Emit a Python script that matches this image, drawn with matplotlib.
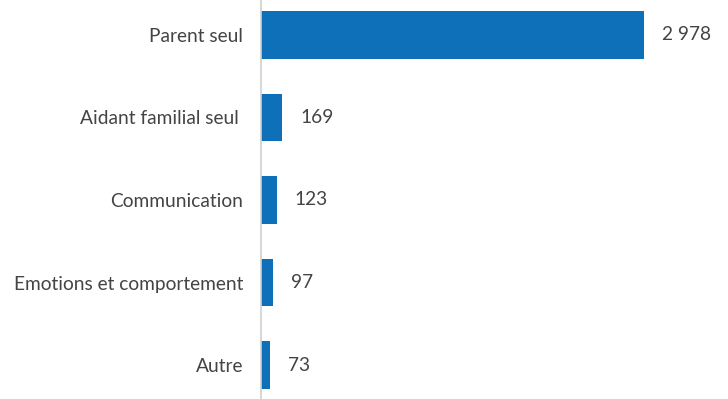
import matplotlib
matplotlib.use("Agg")
import matplotlib.pyplot as plt

categories = ["Parent seul", "Aidant familial seul ", "Communication",
              "Emotions et comportement", "Autre"]
values = [2978, 169, 123, 97, 73]

plt.rcParams["font.family"] = ["Lato", "DejaVu Sans"]

fig = plt.figure(figsize=(7.28, 3.99), dpi=100)
ax = fig.add_axes([260.7 / 728, 0, 1 - 260.7 / 728, 1])

bar_color = "#0E70B8"
text_color = "#444444"

ypos = list(range(len(categories)))
ax.barh(ypos, values, height=0.58, color=bar_color)

ax.set_ylim(4.412, -0.424)
ax.set_xlim(0, 3630)

for y, v in zip(ypos, values):
    label = f"{v:,}".replace(",", " ")
    ax.annotate(label, xy=(v, y), xytext=(12.6, 0), textcoords="offset points",
                ha="left", va="center", fontsize=13.8, color=text_color)

ax.set_yticks(ypos)
ax.set_yticklabels(categories, fontsize=13.8, color=text_color)
ax.tick_params(axis="y", length=0, pad=12.6)
ax.set_xticks([])

for side in ("top", "right", "bottom"):
    ax.spines[side].set_visible(False)
ax.spines["left"].set_color("#D0D0D0")
ax.spines["left"].set_linewidth(1.2)

fig.savefig("out.png", dpi=100)
